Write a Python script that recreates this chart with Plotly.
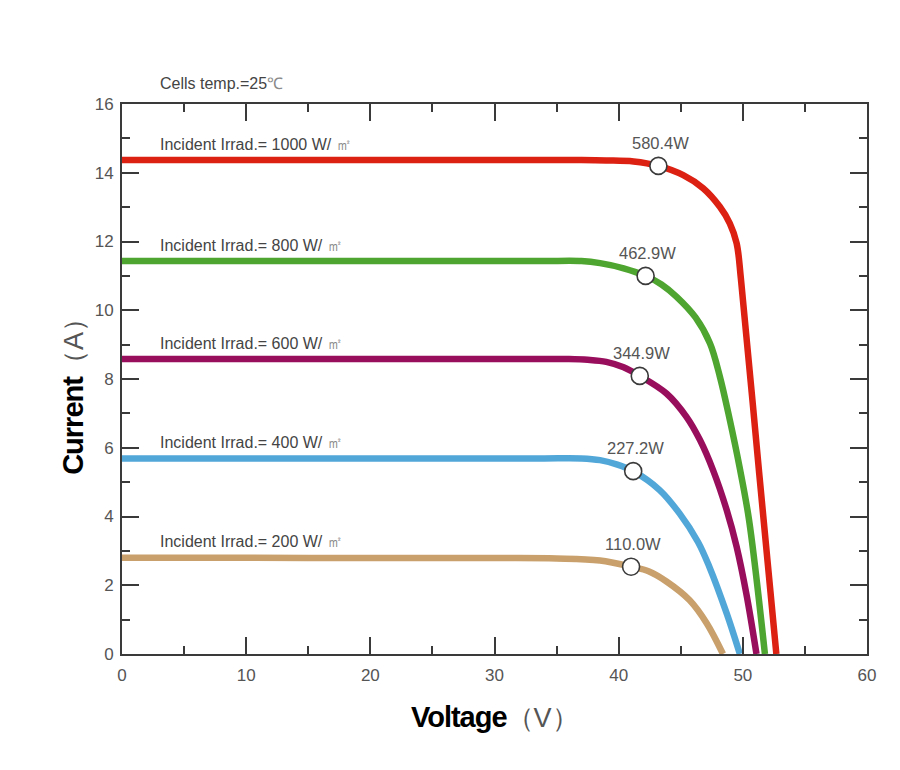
import plotly.graph_objects as go

# ---- data ----
irradiance = [1000, 800, 600, 400, 200]
colors = ["#dc2012", "#4ea52f", "#990d5d", "#52a7d9", "#c9a06b"]

v_1000 = [0, 10, 20, 30, 34, 37, 39, 41.2, 43.2, 45.2, 46.8, 48.15, 48.95, 49.5, 49.85, 51.33, 52.7]
i_1000 = [14.37, 14.37, 14.37, 14.37, 14.37, 14.37, 14.36, 14.33, 14.20, 13.93, 13.55, 13.01, 12.53, 11.95, 10.9, 5.21, 0]

v_800 = [0, 10, 20, 30, 34, 37, 38.5, 40.4, 42.17, 43.45, 44.67, 46.19, 47.35, 48.15, 48.95, 49.73, 50.5, 51.78]
i_800 = [11.43, 11.43, 11.43, 11.43, 11.43, 11.43, 11.37, 11.22, 11.0, 10.75, 10.39, 9.79, 9.04, 8.07, 6.81, 5.45, 3.90, 0]

v_600 = [0, 10, 20, 30, 33, 36, 37.5, 39, 40.4, 41.7, 43.85, 45.46, 46.54, 47.6, 48.7, 49.5, 50.3, 51.1]
i_600 = [8.58, 8.58, 8.58, 8.58, 8.58, 8.58, 8.56, 8.50, 8.34, 8.09, 7.58, 6.90, 6.23, 5.35, 4.19, 3.12, 1.72, 0]

v_400 = [0, 10, 20, 30, 34, 37, 38.5, 39.9, 41.17, 43.3, 44.9, 46.39, 47.3, 48.7, 49.76]
i_400 = [5.69, 5.69, 5.69, 5.69, 5.69, 5.69, 5.64, 5.51, 5.32, 4.77, 4.09, 3.26, 2.54, 1.18, 0]

v_200 = [0, 10, 20, 30, 35, 38.5, 41.0, 42.45, 43.85, 45.7, 47.1, 48.4]
i_200 = [2.80, 2.80, 2.79, 2.79, 2.78, 2.72, 2.54, 2.40, 2.11, 1.57, 0.89, 0]

mpp_v = [43.2, 42.17, 41.7, 41.17, 41.0]
mpp_i = [14.20, 11.0, 8.09, 5.32, 2.54]
mpp_labels = ["580.4W", "462.9W", "344.9W", "227.2W", "110.0W"]

x_ticks = [0, 10, 20, 30, 40, 50, 60]
y_ticks = [0, 2, 4, 6, 8, 10, 12, 14, 16]

volts = [v_1000, v_800, v_600, v_400, v_200]
amps = [i_1000, i_800, i_600, i_400, i_200]

FONT = "Liberation Sans, Arial, sans-serif"
AX = "#3a3a3a"

fig = go.Figure()
for v, i, c in zip(volts, amps, colors):
    fig.add_trace(go.Scatter(x=v, y=i, mode="lines",
                             line=dict(color=c, width=6.5, shape="spline", smoothing=1.0, simplify=False),
                             hoverinfo="skip", showlegend=False))

fig.add_trace(go.Scatter(x=mpp_v, y=mpp_i, mode="markers",
                         marker=dict(size=17, color="white", line=dict(color="#3a3a3a", width=1.6)),
                         showlegend=False))

annotations = []
for vv, ii, lab in zip(mpp_v, mpp_i, mpp_labels):
    annotations.append(dict(x=vv, y=ii, text=lab, showarrow=False, xanchor="center", yanchor="middle",
                            xshift=2, yshift=23, font=dict(family=FONT, size=16.5, color="#555555")))
for irr, ii in zip(irradiance, amps):
    annotations.append(dict(x=2.9, y=ii[0],
                            text=f"Incident Irrad.= {irr} W/ <span style='font-size:16px;color:#8a8a8a'>㎡</span>",
                            showarrow=False, xanchor="left", yanchor="middle", yshift=16,
                            font=dict(family=FONT, size=16, color="#444444")))
annotations.append(dict(x=2.9, y=16, text="Cells temp.=25<span style='color:#8a8a8a'>℃</span>", showarrow=False,
                        xanchor="left", yanchor="middle", yshift=21, font=dict(family=FONT, size=16, color="#444444")))
annotations.append(dict(x=0.501, y=-0.115, xref="paper", yref="paper", showarrow=False, xanchor="center", yanchor="middle",
                        text="<b><span style='letter-spacing:-1px'>Voltage</span></b><span style='font-family:Liberation Sans;font-size:27px;color:#555555'>（V）</span>",
                        font=dict(family=FONT, size=29, color="black")))
annotations.append(dict(x=-0.066, y=0.48, xref="paper", yref="paper", showarrow=False, xanchor="center", yanchor="middle",
                        textangle=-90,
                        text="<b><span style='letter-spacing:-1px'>Current</span></b><span style='font-family:Liberation Sans;font-size:27px;color:#555555'>（A）</span>",
                        font=dict(family=FONT, size=29, color="black")))

axis_common = dict(showgrid=False, zeroline=False, showline=True, linecolor=AX, linewidth=2, mirror="ticks",
                   ticks="inside", ticklen=17, tickwidth=2, tickcolor=AX,
                   tickfont=dict(family=FONT, size=17, color="#555555"))

fig.update_xaxes(range=[0, 60], tickvals=x_ticks, ticklabelstandoff=5,
                 minor=dict(ticks="inside", ticklen=8, tickwidth=2, tickcolor=AX, dtick=5, showgrid=False),
                 **axis_common)
fig.update_yaxes(range=[0, 16], tickvals=y_ticks, ticklabelstandoff=3,
                 minor=dict(ticks="inside", ticklen=8, tickwidth=2, tickcolor=AX, dtick=1, showgrid=False),
                 **axis_common)

fig.update_layout(width=900, height=770, margin=dict(l=122, r=33, t=104, b=116),
                  paper_bgcolor="white", plot_bgcolor="white", annotations=annotations, showlegend=False)

fig.write_html("out.html")
